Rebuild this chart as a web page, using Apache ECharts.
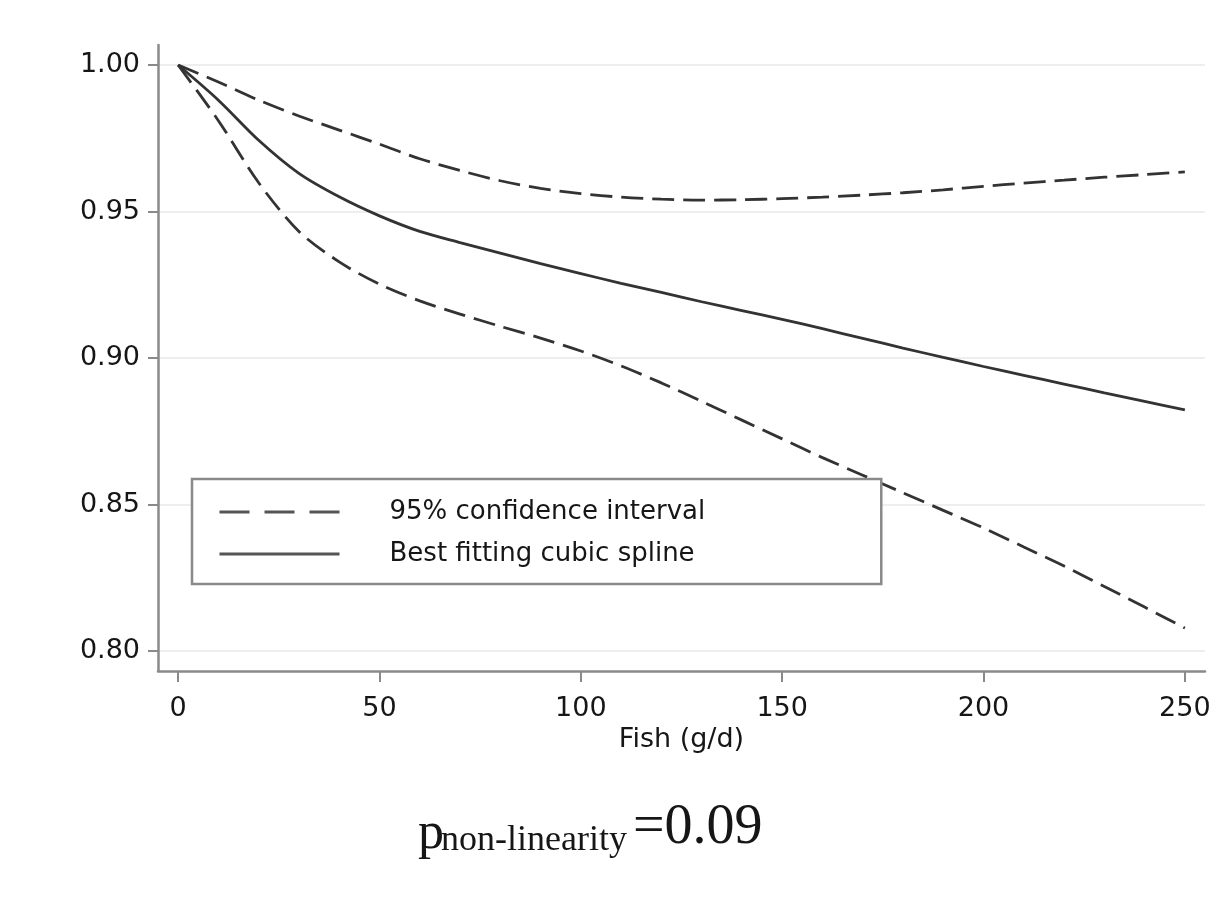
<!DOCTYPE html>
<html>
<head>
<meta charset="utf-8">
<title>Fish intake dose-response</title>
<script src="https://cdn.jsdelivr.net/npm/echarts@6/dist/echarts.min.js"></script>
<style>
  html, body { margin: 0; padding: 0; background: #fff; }
  #main { width: 1224px; height: 915px; }
</style>
</head>
<body>
<div id="main"></div>
<script>
// fish intake (g/d)
const fishGrams = [0, 10, 20, 30, 40, 50, 60, 70, 80, 90, 100, 110, 120, 130, 140, 150, 160, 170, 180, 190, 200, 210, 220, 230, 240, 250]
// best fitting cubic spline
const fitValues = [1.000, 0.9880, 0.9743, 0.9630, 0.9550, 0.9485, 0.9432, 0.9394, 0.9358, 0.9322, 0.9288, 0.9255, 0.9224, 0.9192, 0.9162, 0.9132, 0.9100, 0.9067, 0.9034, 0.9002, 0.8971, 0.8941, 0.8911, 0.8881, 0.8852, 0.8823]
// 95% CI upper / lower
const ciUpper = [1.000, 0.9942, 0.9880, 0.9826, 0.9778, 0.9730, 0.9680, 0.9640, 0.9605, 0.9579, 0.9561, 0.9549, 0.9542, 0.9539, 0.9540, 0.9544, 0.9549, 0.9556, 0.9564, 0.9574, 0.9586, 0.9597, 0.9607, 0.9617, 0.9626, 0.9635]
const ciLower = [1.000, 0.9810, 0.9598, 0.9432, 0.9328, 0.9252, 0.9195, 0.9150, 0.9108, 0.9068, 0.9024, 0.8973, 0.8915, 0.8852, 0.8788, 0.8724, 0.8660, 0.8600, 0.8540, 0.8480, 0.8420, 0.8355, 0.8290, 0.8220, 0.8150, 0.8078]
// tick labels
const xTicks = [0, 50, 100, 150, 200, 250]
const yTicks = [0.80, 0.85, 0.90, 0.95, 1.00]

const ciName = '95% confidence interval'
const fitName = 'Best fitting cubic spline'
const lineColor = '#333'
const axisGray = '#8a8a8a'
const textColor = '#161616'
const sans = 'DejaVu Sans'

const toPairs = (ys) => fishGrams.map((x, i) => [x, ys[i]])

const chart = echarts.init(document.getElementById('main'))

const option = {
    backgroundColor: '#fff',
    animation: false,
    grid: {
        left: 158,
        right: 19,
        top: 45,
        bottom: 244
    },
    xAxis: {
        type: 'value',
        min: -5,
        max: 255,
        name: 'Fish (g/d)',
        nameLocation: 'middle',
        nameGap: 37,
        nameTextStyle: { fontFamily: sans, fontSize: 27, color: textColor },
        axisLine: { show: true, onZero: false, lineStyle: { color: axisGray, width: 2.5 } },
        axisTick: { show: true, length: 11, customValues: xTicks, lineStyle: { color: axisGray, width: 2 } },
        axisLabel: { customValues: xTicks, margin: 24, fontFamily: sans, fontSize: 27, color: textColor },
        splitLine: { show: false }
    },
    yAxis: {
        type: 'value',
        min: 0.79317,
        max: 1.00683,
        axisLine: { show: true, onZero: false, lineStyle: { color: axisGray, width: 2.5 } },
        axisTick: { show: true, length: 10, customValues: yTicks, lineStyle: { color: axisGray, width: 2 } },
        axisLabel: {
            customValues: yTicks,
            margin: 18,
            fontFamily: sans,
            fontSize: 27,
            color: textColor,
            formatter: (v) => v.toFixed(2)
        },
        splitLine: { show: true, lineStyle: { color: '#eeeeee', width: 2 } }
    },
    legend: {
        orient: 'vertical',
        left: 192,
        top: 479,
        padding: [20, 176, 17, 26],
        itemWidth: 120,
        itemHeight: 30,
        itemGap: 16,
        backgroundColor: '#fff',
        borderColor: axisGray,
        borderWidth: 2.5,
        borderRadius: 0,
        itemStyle: { opacity: 0 },
        textStyle: { fontFamily: sans, fontSize: 26, color: textColor, padding: [0, 0, 0, 45] },
        data: [
            { name: ciName, itemStyle: { opacity: 0 }, lineStyle: { type: [30, 15], width: 3, color: '#555' } },
            { name: fitName, itemStyle: { opacity: 0 }, lineStyle: { type: 'solid', width: 3, color: '#555' } }
        ]
    },
    graphic: [
        {
            type: 'text',
            left: 418,
            top: 808,
            style: { text: 'p', font: '52px "Liberation Serif"', fill: textColor }
        },
        {
            type: 'text',
            left: 441,
            top: 823,
            style: { text: 'non-linearity', font: '36px "Liberation Serif"', fill: textColor }
        },
        {
            type: 'text',
            left: 633,
            top: 800,
            style: { text: '=0.09', font: '56px "Liberation Serif"', fill: textColor }
        }
    ],
    series: [
        {
            name: ciName,
            type: 'line',
            data: toPairs(ciUpper),
            smooth: 0.3,
            symbol: 'none',
            z: 1,
            lineStyle: { color: lineColor, width: 2.8, type: [22, 9] }
        },
        {
            name: ciName,
            type: 'line',
            data: toPairs(ciLower),
            smooth: 0.3,
            symbol: 'none',
            z: 1,
            lineStyle: { color: lineColor, width: 2.8, type: [22, 9] }
        },
        {
            name: fitName,
            type: 'line',
            data: toPairs(fitValues),
            smooth: 0.3,
            symbol: 'none',
            z: 2,
            lineStyle: { color: lineColor, width: 2.8 }
        }
    ]
}

chart.setOption(option)
</script>
</body>
</html>
